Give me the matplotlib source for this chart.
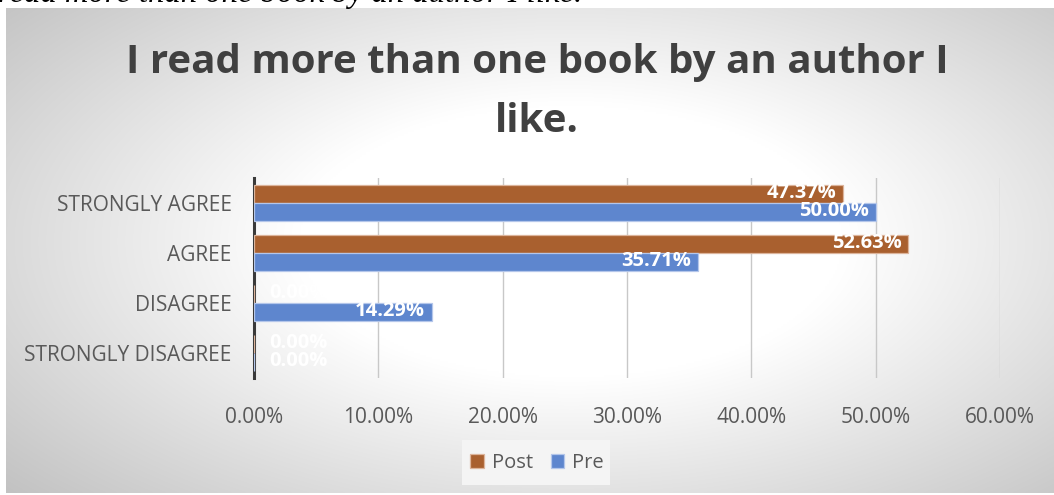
import numpy as np
import matplotlib
matplotlib.use("Agg")
import matplotlib.pyplot as plt
from matplotlib.patches import Rectangle

# Survey responses (share of students)
categories = ["STRONGLY DISAGREE", "DISAGREE", "AGREE", "STRONGLY AGREE"]
post_values = [0.0, 0.0, 52.63, 47.37]
pre_values = [0.0, 14.29, 35.71, 50.00]
series_names = ["Post", "Pre"]
x_ticks = [0, 10, 20, 30, 40, 50, 60]
title = "I read more than one book by an author I\nlike."
caption = "read more than one book by an author I like."

POST_COLOR = "#a9602f"
PRE_COLOR = "#5e86ce"
TEXT_COLOR = "#404040"
TICK_COLOR = "#595959"
FONT = "Open Sans"

W, H = 1054, 495
fig = plt.figure(figsize=(W / 100, H / 100), dpi=100)
fig.patch.set_facecolor("white")

# Chart area with a radial gray-to-white fill
bg = fig.add_axes([6 / W, 2 / H, (W - 6) / W, (H - 10) / H])
bg.set_axis_off()
yy, xx = np.mgrid[0:240, 0:520]
cx, cy = 280, 115
r = np.sqrt(((xx - cx) / 300.0) ** 2 + ((yy - cy) / 150.0) ** 2)
shade = 1.0 - 0.30 * np.clip(r - 0.45, 0, None)
shade = np.clip(shade, 0.76, 1.0)
bg.imshow(np.dstack([shade] * 3), aspect="auto", extent=[0, 1, 0, 1],
          interpolation="bilinear")
bg.set_xlim(0, 1)
bg.set_ylim(0, 1)

# Caption line from the surrounding document, running off the top edge
fig.text(-2 / W, 1 - 2 / H, caption, family="Liberation Serif", style="italic",
         fontsize=23.5, color="black", ha="left", va="baseline")

fig.text(537 / W, 1 - 92 / H, title, family=FONT, weight="bold",
         fontsize=29, color=TEXT_COLOR, ha="center", va="center",
         linespacing=1.65)

ax = fig.add_axes([254 / W, 1 - 378 / H, (1000 - 254) / W, 200 / H])
ax.patch.set_alpha(0)
y = np.arange(len(categories))
h = 0.36
post_bars = ax.barh(y + h / 2, post_values, height=h, color=POST_COLOR,
                    edgecolor="#dcb49b", linewidth=0.9, label=series_names[0],
                    zorder=3)
pre_bars = ax.barh(y - h / 2, pre_values, height=h, color=PRE_COLOR,
                   edgecolor="#b4c6ea", linewidth=0.9, label=series_names[1],
                   zorder=3)

for bars, vals in ((post_bars, post_values), (pre_bars, pre_values)):
    for bar, v in zip(bars, vals):
        yc = bar.get_y() + bar.get_height() / 2
        if v > 0:
            ax.annotate(f"{v:.2f}%", (v, yc), xytext=(-5, 0.5),
                        textcoords="offset points", ha="right", va="center",
                        color="white", fontsize=14.5, weight="bold",
                        family=FONT, zorder=4)
        else:
            ax.annotate(f"{v:.2f}%", (v, yc), xytext=(11, 0.5),
                        textcoords="offset points", ha="left", va="center",
                        color="white", fontsize=14.5, weight="bold",
                        family=FONT, zorder=4)

ax.set_xlim(0, 60)
ax.set_ylim(-0.5, 3.5)
ax.set_xticks(x_ticks)
ax.set_xticklabels([f"{t:.2f}%" for t in x_ticks])
ax.set_yticks(y)
ax.set_yticklabels(categories)
ax.xaxis.grid(True, color="#c8c8c8", linewidth=1.0, zorder=0)
ax.set_axisbelow(True)
for s in ("top", "right", "bottom"):
    ax.spines[s].set_visible(False)
ax.spines["left"].set_color("#3a3a3a")
ax.spines["left"].set_linewidth(2.2)
ax.tick_params(axis="both", length=0, labelsize=15, labelcolor=TICK_COLOR)
ax.tick_params(axis="x", pad=21)
ax.tick_params(axis="y", pad=16)
for lab in ax.get_xticklabels() + ax.get_yticklabels():
    lab.set_family(FONT)

# Legend box
fig.patches.append(Rectangle((462 / W, 1 - 485 / H), 148 / W, 45 / H,
                             transform=fig.transFigure, facecolor="#f4f4f4",
                             edgecolor="none", zorder=1))
leg = fig.legend(handles=[post_bars, pre_bars], labels=series_names,
                 loc="center", bbox_to_anchor=(537 / W, 1 - 463 / H),
                 ncol=2, frameon=False, handlelength=0.65,
                 handleheight=0.65, handletextpad=0.4, columnspacing=0.9,
                 prop={"family": FONT, "size": 14.5})
for t in leg.get_texts():
    t.set_color(TICK_COLOR)

fig.savefig("out.png", dpi=100)
